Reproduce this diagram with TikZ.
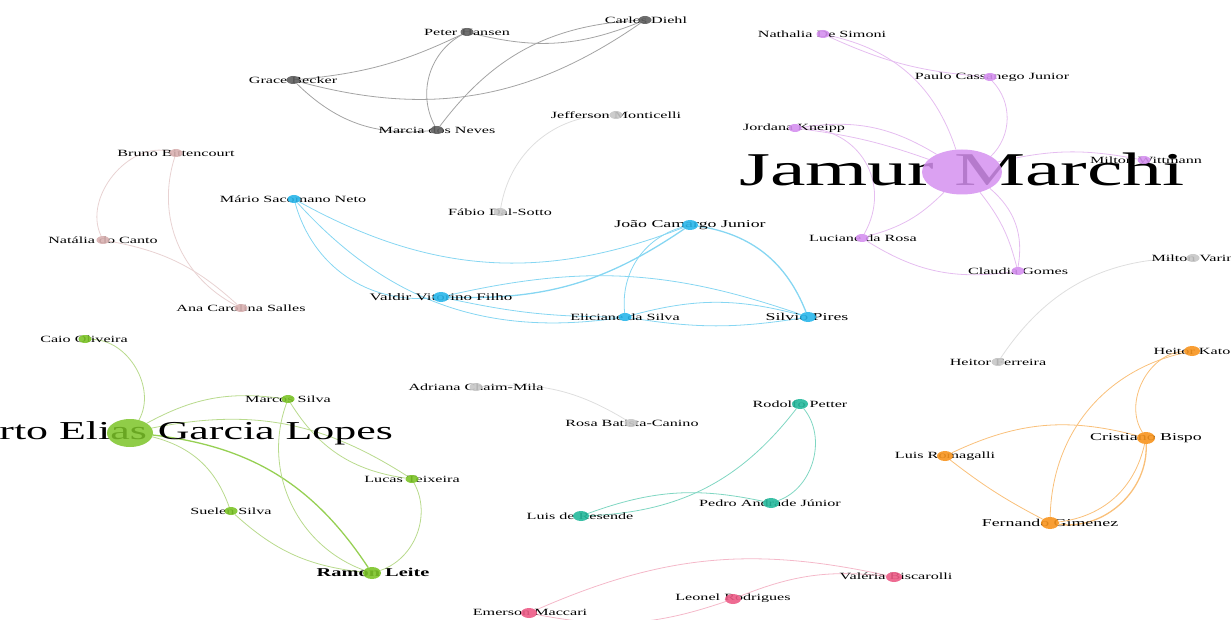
\documentclass[tikz,border=0pt]{standalone}
\usepackage{fontspec}
\setmainfont{Liberation Serif}[FakeStretch=1.7]
\usepackage{tikz}
\usepackage{xcolor}
\usetikzlibrary{shapes.geometric,backgrounds}
\definecolor{dgrey}{HTML}{5E5E5E}
\definecolor{dgreyE}{HTML}{A3A3A3}
\definecolor{lgrey}{HTML}{C6C6C6}
\definecolor{lgreyE}{HTML}{DEDEDE}
\definecolor{rose}{HTML}{D8B0B0}
\definecolor{roseE}{HTML}{E8D2D2}
\definecolor{sky}{HTML}{29B6EA}
\definecolor{skyE}{HTML}{86D6F2}
\definecolor{lilac}{HTML}{D590F0}
\definecolor{lilacE}{HTML}{E5BDF0}
\definecolor{leaf}{HTML}{7CC428}
\definecolor{leafE}{HTML}{B8DA8C}
\definecolor{teal}{HTML}{25B99C}
\definecolor{tealE}{HTML}{7FD6C2}
\definecolor{amber}{HTML}{F7941E}
\definecolor{amberE}{HTML}{F9C07A}
\definecolor{berry}{HTML}{EC5B86}
\definecolor{berryE}{HTML}{F4B8C9}

\tikzset{
  lbl/.style={inner sep=0pt, text=black, font=\fontsize{9.5}{10}\selectfont},
  lblm/.style={lbl, font=\fontsize{10.5}{11}\selectfont},
  dot/.style={ellipse, fill=#1, fill opacity=.9, draw=none, inner sep=0pt,
    minimum width=13pt, minimum height=8pt},
  dotm/.style={dot=#1, minimum width=16pt, minimum height=10pt},
  dotl/.style={dot=#1, minimum width=18pt, minimum height=12pt},
  edge/.style={draw=#1, line width=.8pt},
  edgek/.style={draw=#1, line width=1.3pt}
}

\begin{document}
\begin{tikzpicture}[x=1pt,y=-1pt]
\useasboundingbox (0,0) rectangle (1231,620);

\node[lbl] (ph-t) at (467,32) {Peter Hansen};
\node[dot=dgrey] (ph) at (467,32) {};
\node[lbl] (cd-t) at (646,20) {Carlos Diehl};
\node[dot=dgrey] (cd) at (645,20) {};
\node[lbl] (gb-t) at (293,80) {Grace Becker};
\node[dot=dgrey] (gb) at (293,80) {};
\node[lbl] (mn-t) at (437,130) {Marcia dos Neves};
\node[dot=dgrey] (mn) at (437,130) {};

\node[lbl] (jm-t) at (616,115) {Jefferson Monticelli};
\node[dot=lgrey] (jmo) at (616,115) {};
\node[lbl] (fd-t) at (500,212) {Fábio Dal-Sotto};
\node[dot=lgrey] (fd) at (500,212) {};

\node[lbl] (bb-t) at (176,153) {Bruno Bittencourt};
\node[dot=rose] (bb) at (176,153) {};
\node[lbl] (nc-t) at (103,240) {Natália do Canto};
\node[dot=rose] (nc) at (103,240) {};
\node[lbl] (ac-t) at (241,308) {Ana Carolina Salles};
\node[dot=rose] (ac) at (241,308) {};

\node[lbl] (ms-t) at (293,199) {Mário Sacomano Neto};
\node[dot=sky] (ms) at (294,199) {};
\node[lblm] (jc-t) at (690,225) {João Camargo Junior};
\node[dotm=sky] (jc) at (690,225) {};
\node[lbl, font=\fontsize{10}{11}\selectfont] (vv-t) at (441,297) {Valdir Vitorino Filho};
\node[dotm=sky] (vv) at (441,297) {};
\node[lbl] (es-t) at (625,317) {Eliciane da Silva};
\node[dot=sky] (es) at (625,317) {};
\node[lblm] (sp-t) at (807,317) {Silvio Pires};
\node[dotm=sky] (sp) at (808,317) {};

\node[lbl, font=\fontsize{47}{50}\selectfont] (ja-t) at (962,169) {Jamur Marchi};
\node[dot=lilac, fill opacity=.85, minimum width=80pt, minimum height=45pt] (ja) at (962,172) {};
\node[lbl] (nd-t) at (822,34) {Nathalia De Simoni};
\node[dot=lilac] (nd) at (823,34) {};
\node[lbl] (pc-t) at (992,77) {Paulo Cassanego Junior};
\node[dot=lilac] (pc) at (990,77) {};
\node[lbl] (jk-t) at (794,128) {Jordana Kneipp};
\node[dot=lilac] (jk) at (795,128) {};
\node[lbl] (mw-t) at (1146,160) {Milton Wittmann};
\node[dot=lilac] (mw) at (1144,160) {};
\node[lbl] (lr-t) at (863,238) {Luciane da Rosa};
\node[dot=lilac] (lr) at (862,238) {};
\node[lbl] (cg-t) at (1018,271) {Claudia Gomes};
\node[dot=lilac] (cg) at (1018,271) {};

\node[lbl] (mv-t) at (1193,258) {Milton Varin};
\node[dot=lgrey] (mv) at (1193,258) {};
\node[lbl] (hf-t) at (998,362) {Heitor Ferreira};
\node[dot=lgrey] (hf) at (998,362) {};

\node[lbl] (hk-t) at (1192,351) {Heitor Kato};
\node[dotm=amber] (hk) at (1192,351) {};
\node[lblm] (cb-t) at (1146,438) {Cristiano Bispo};
\node[dotl=amber] (cb) at (1146,438) {};
\node[lbl] (lrm-t) at (945,456) {Luis Romagalli};
\node[dotm=amber] (lrm) at (945,456) {};
\node[lblm] (fg-t) at (1050,523) {Fernando Gimenez};
\node[dotl=amber] (fg) at (1050,523) {};

\node[lbl, anchor=east, font=\fontsize{25.8}{28}\selectfont] (eg-t) at (393,433) {rto Elias Garcia Lopes};
\node[dot=leaf, fill opacity=.85, minimum width=46pt, minimum height=28pt] (eg) at (130,433) {};
\node[lbl] (co-t) at (84,339) {Caio Oliveira};
\node[dot=leaf] (co) at (85,339) {};
\node[lbl] (msi-t) at (288,399) {Marcos Silva};
\node[dot=leaf] (msi) at (288,399) {};
\node[lbl] (lt-t) at (412,479) {Lucas Teixeira};
\node[dot=leaf] (lt) at (412,479) {};
\node[lbl] (ss-t) at (231,511) {Suelen Silva};
\node[dot=leaf] (ss) at (231,511) {};
\node[lbl, font=\fontsize{12}{13}\selectfont\bfseries] (rl-t) at (373,572) {Ramon Leite};
\node[dotl=leaf] (rl) at (372,573) {};

\node[lbl] (ad-t) at (476,387) {Adriana Chaim-Mila};
\node[dot=lgrey] (ad) at (476,387) {};
\node[lbl] (rb-t) at (632,423) {Rosa Batista-Canino};
\node[dot=lgrey] (rb) at (631,423) {};

\node[lbl] (rp-t) at (800,404) {Rodolfo Petter};
\node[dotm=teal] (rp) at (800,404) {};
\node[lbl] (ld-t) at (580,516) {Luis de Resende};
\node[dotm=teal] (ld) at (581,516) {};
\node[lbl] (pa-t) at (770,503) {Pedro Andrade Júnior};
\node[dotm=teal] (pa) at (771,503) {};

\node[lbl] (em-t) at (530,612) {Emerson Maccari};
\node[dotm=berry] (em) at (529,613) {};
\node[lbl] (lro-t) at (733,598) {Leonel Rodrigues};
\node[dotm=berry] (lro) at (733,599) {};
\node[lbl] (vb-t) at (896,576) {Valéria Biscarolli};
\node[dotm=berry] (vb) at (894,577) {};

\begin{scope}[on background layer]
\draw[edge=dgreyE] (ph) to[bend right=18] (cd);
\draw[edge=dgreyE] (gb) to[bend right=10] (ph);
\draw[edge=dgreyE] (gb) to[bend right=25] (cd);
\draw[edge=dgreyE] (gb) to[bend right=25] (mn);
\draw[edge=dgreyE] (ph) to[bend right=45] (mn);
\draw[edge=dgreyE] (mn) to[bend left=25] (cd);

\draw[edge=lgreyE] (jmo) to[bend right=40] (fd);

\draw[edge=roseE] (bb) to[bend right=65] (nc);
\draw[edge=roseE] (bb) to[bend right=40] (ac);
\draw[edge=roseE] (nc) to[bend left=16] (ac);

\draw[edge=skyE] (ms) to[bend right=25] (jc);
\draw[edge=skyE] (ms) to[bend right=40] (vv);
\draw[edge=skyE] (ms) to[bend right=28] (es);
\draw[edgek=skyE] (vv) to[bend right=18] (jc);
\draw[edge=skyE] (vv) to[bend left=16] (sp);
\draw[edge=skyE] (vv) to[bend right=6] (es);
\draw[edge=skyE] (jc) to[bend right=40] (es);
\draw[edgek=skyE] (jc) to[bend left=30] (sp);
\draw[edge=skyE] (es) to[bend left=15] (sp);
\draw[edge=skyE] (es) to[bend right=9] (sp);

\draw[edge=lilacE] (nd) to[bend right=10] (pc);
\draw[edge=lilacE] (nd) to[bend left=30] (ja);
\draw[edge=lilacE] (pc) to[bend left=45] (ja);
\draw[edge=lilacE] (jk) to[bend left=20] (ja);
\draw[edge=lilacE] (jk) to[bend left=6] (ja);
\draw[edge=lilacE] (jk) to[bend left=60, looseness=1.2] (lr);
\draw[edge=lilacE] (lr) to[bend right=15] (ja);
\draw[edge=lilacE] (lr) to[bend right=20] (cg);
\draw[edge=lilacE] (ja) to[bend left=30] (cg);
\draw[edge=lilacE] (ja) to[bend left=12] (cg);
\draw[edge=lilacE] (ja) to[bend left=12] (mw);

\draw[edge=lgreyE] (mv) to[bend right=28] (hf);
\draw[edge=lgreyE] (ad) to[bend left=18] (rb);

\draw[edge=amberE] (hk) to[bend right=60] (cb);
\draw[edge=amberE] (hk) to[bend right=38] (fg);
\draw[edge=amberE] (lrm) to[bend left=20] (cb);
\draw[edge=amberE] (lrm) to[bend right=5] (fg);
\draw[edgek=amberE] (cb) to[bend left=50] (fg);
\draw[edge=amberE] (cb) to[bend left=35] (fg);

\draw[edge=leafE] (co) to[bend left=60] (eg);
\draw[edge=leafE] (eg) to[bend left=18] (msi);
\draw[edge=leafE] (eg) to[bend left=22] (lt);
\draw[edge=leafE] (eg) to[bend left=28] (ss);
\draw[edgek=leaf!80] (eg) to[bend left=25] (rl);
\draw[edge=leafE] (msi) to[bend right=45] (rl);
\draw[edge=leafE] (msi) to[bend right=25] (lt);
\draw[edge=leafE] (lt) to[bend left=50] (rl);
\draw[edge=leafE] (ss) to[bend right=18] (rl);

\draw[edge=tealE] (rp) to[bend left=25] (ld);
\draw[edge=tealE] (rp) to[bend left=55] (pa);
\draw[edge=tealE] (ld) to[bend left=16] (pa);

\draw[edge=berryE] (em) to[bend left=18] (vb);
\draw[edge=berryE] (lro) to[bend left=14] (vb);
\draw[edge=berryE] (em) to[bend right=15] (lro);
\end{scope}
\end{tikzpicture}
\end{document}
